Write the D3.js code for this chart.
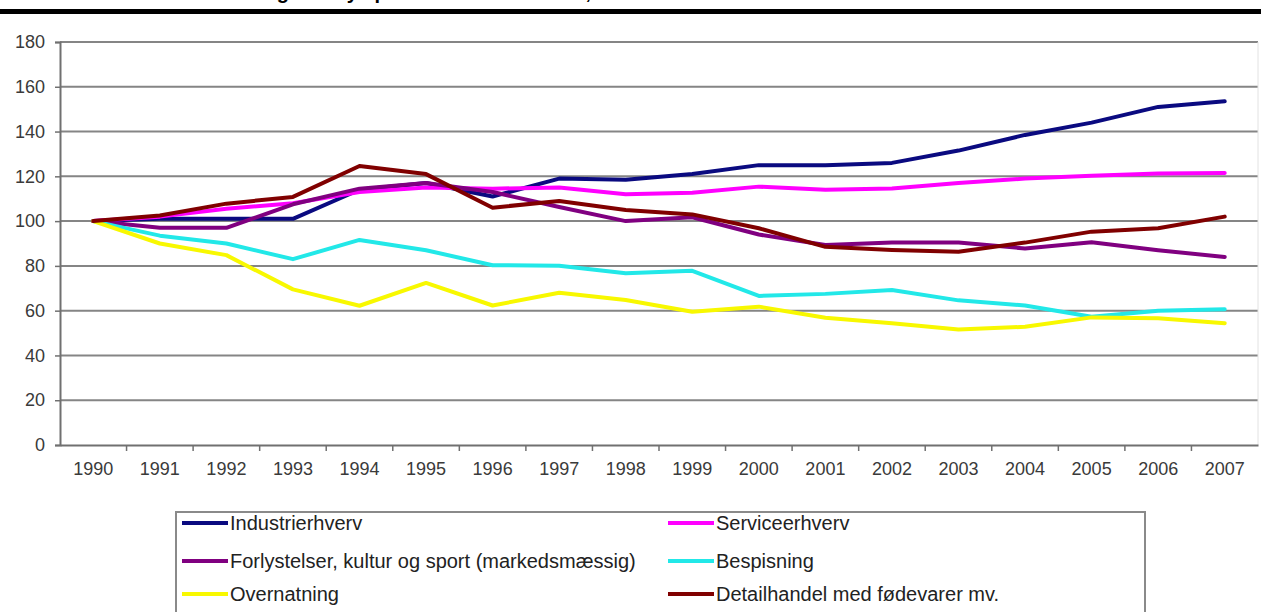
<!DOCTYPE html>
<html><head><meta charset="utf-8">
<script src="https://cdn.jsdelivr.net/npm/d3@7"></script>
<style>html,body{margin:0;padding:0;background:#fff;overflow:hidden}svg{display:block}</style>
</head><body>
<svg id="c" width="1261" height="612"></svg>
<script>
const years = ["1990","1991","1992","1993","1994","1995","1996","1997","1998","1999","2000","2001","2002","2003","2004","2005","2006","2007"];
const industrierhverv = [100,101,101,101,114,117,111,119,118.5,121,125,125,126,131.5,138.5,144,151,153.5];
const serviceerhverv  = [100,102,105.5,108,113,115,114.5,115,112,112.7,115.4,114,114.6,117,119,120.3,121.3,121.5];
const forlystelser    = [100,97,97,107.5,114.5,117,113,106.3,100,101.7,94,89.3,90.4,90.4,87.8,90.6,87,84];
const bespisning      = [100,93.5,90,83,91.6,87,80.3,80.1,76.7,77.8,66.6,67.5,69.2,64.6,62.3,57.3,60,60.6];
const overnatning     = [100,90,84.8,69.5,62.2,72.4,62.3,68,64.8,59.5,61.8,56.8,54.4,51.6,52.8,57,56.6,54.4];
const detailhandel    = [100,102.5,107.8,110.8,124.6,121,106,109,105,103,96.8,88.5,87.1,86.3,90.4,95.3,96.8,102];
const seriesNames = ["Industrierhverv","Serviceerhverv","Forlystelser, kultur og sport (markedsmæssig)","Bespisning","Overnatning","Detailhandel med fødevarer mv."];
const seriesValues = [industrierhverv, serviceerhverv, forlystelser, bespisning, overnatning, detailhandel];
const seriesColors = ["#0a0a80","#ff00ff","#800080","#22e8e8","#f8f800","#800000"];
const yTicks = [0,20,40,60,80,100,120,140,160,180];
const titleText = "Udvikling i de nye private serviceerhverv, 1990-2007";

const svg = d3.select("#c");
const L = 60, R = 1258, T = 42, B = 445;
const x = d3.scaleBand().domain(years).range([L, R]).padding(0);
const y = d3.scaleLinear().domain([0, 180]).range([B, T]);
const font = "'Liberation Sans', Arial, sans-serif";

// partial title (cut off at top, as in the source) and thick rule
svg.append("text").attr("x", 199).attr("y", -1).attr("font-family", font)
  .attr("font-weight", "bold").attr("font-size", 20).attr("fill", "#000").text(titleText);
svg.append("rect").attr("x", 0).attr("y", 9).attr("width", 1261).attr("height", 5).attr("fill", "#000");

// gridlines
svg.append("g").selectAll("line").data(yTicks.filter(d => d > 0)).join("line")
  .attr("x1", L).attr("x2", R).attr("y1", d => y(d)).attr("y2", d => y(d))
  .attr("stroke", "#858585").attr("stroke-width", 2);
svg.append("line").attr("x1", R).attr("x2", R).attr("y1", T).attr("y2", B)
  .attr("stroke", "#e2e2e2").attr("stroke-width", 1);

// y axis
const yAxis = svg.append("g").attr("transform", `translate(${L},0)`)
  .call(d3.axisLeft(y).tickValues(yTicks).tickSize(5).tickPadding(10));
yAxis.select(".domain").attr("stroke", "#707070").attr("stroke-width", 2);
yAxis.selectAll(".tick line").attr("stroke", "#707070").attr("stroke-width", 1.5);
yAxis.selectAll("text").attr("font-family", font).attr("font-size", 18).attr("fill", "#3a3a3a");

// x axis
const xAxis = svg.append("g").attr("transform", `translate(0,${B})`)
  .call(d3.axisBottom(x).tickSize(0).tickPadding(17));
xAxis.select(".domain").attr("stroke", "#707070").attr("stroke-width", 2);
xAxis.selectAll("text").attr("font-family", font).attr("font-size", 18).attr("fill", "#3a3a3a");
svg.append("g").selectAll("line").data(years.slice(1)).join("line")
  .attr("x1", d => x(d)).attr("x2", d => x(d)).attr("y1", B).attr("y2", B + 6)
  .attr("stroke", "#707070").attr("stroke-width", 1.5);

// lines
const line = d3.line().x((d, i) => x(years[i]) + x.bandwidth() / 2).y(d => y(d));
svg.append("g").selectAll("path").data(seriesValues).join("path")
  .attr("d", d => line(d)).attr("fill", "none")
  .attr("stroke", (d, i) => seriesColors[i]).attr("stroke-width", 4)
  .attr("stroke-linejoin", "round").attr("stroke-linecap", "round");

// legend
const lg = svg.append("g");
lg.append("rect").attr("x", 176).attr("y", 512).attr("width", 969).attr("height", 120)
  .attr("fill", "#fff").attr("stroke", "#8a8a8a").attr("stroke-width", 2);
const colX = [182, 668], rowY = [523, 561, 594];
seriesNames.forEach((name, i) => {
  const cx = colX[i % 2], cy = rowY[Math.floor(i / 2)];
  lg.append("line").attr("x1", cx).attr("x2", cx + 46).attr("y1", cy).attr("y2", cy)
    .attr("stroke", seriesColors[i]).attr("stroke-width", 4);
  lg.append("text").attr("x", cx + 48).attr("y", cy).attr("dy", "0.35em")
    .attr("font-family", font).attr("font-size", 20).attr("fill", "#222").text(name);
});
</script>
</body></html>
